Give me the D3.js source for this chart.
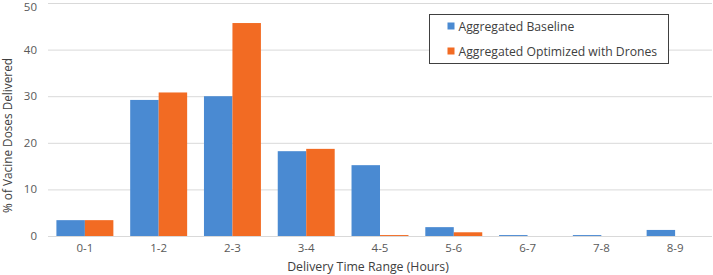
<!DOCTYPE html>
<html>
<head>
<meta charset="utf-8">
<script src="https://cdn.jsdelivr.net/npm/d3@7"></script>
<style>
  html, body { margin: 0; padding: 0; background: #fff; }
  svg { display: block; font-family: "Open Sans", "Noto Sans", sans-serif; }
</style>
</head>
<body>
<div id="chart"></div>
<script>
const categories = ["0-1", "1-2", "2-3", "3-4", "4-5", "5-6", "6-7", "7-8", "8-9"];
const baseline = [3.4, 29.2, 30.0, 18.2, 15.2, 1.9, 0.2, 0.2, 1.3];
const drones = [3.4, 30.8, 45.7, 18.7, 0.2, 0.8, 0, 0, 0];
const seriesNames = ["Aggregated Baseline", "Aggregated Optimized with Drones"];
const seriesColors = ["#4a8ad2", "#f26b23"];
const yTicks = [0, 10, 20, 30, 40, 50];

const width = 713, height = 275;
const margin = { top: 3, right: 1, bottom: 39, left: 48 };
const innerW = width - margin.left - margin.right;
const innerH = height - margin.top - margin.bottom;

const svg = d3.select("#chart")
  .append("svg")
  .attr("width", width)
  .attr("height", height);

const g = svg.append("g")
  .attr("transform", `translate(${margin.left},${margin.top})`);

const x = d3.scaleBand()
  .domain(categories)
  .range([0, innerW])
  .paddingInner(0.228)
  .paddingOuter(0.114);

const x1 = d3.scaleBand()
  .domain([0, 1])
  .range([0, x.bandwidth()]);

const y = d3.scaleLinear()
  .domain([0, 50])
  .range([innerH, 0]);

// gridlines
g.append("g")
  .selectAll("line")
  .data(yTicks)
  .join("line")
  .attr("x1", 0)
  .attr("x2", innerW)
  .attr("y1", d => y(d) + 0.5)
  .attr("y2", d => y(d) + 0.5)
  .attr("stroke", "#d9d9d9")
  .attr("stroke-width", 1);

// y tick labels (top one nudged down so it stays inside the page)
g.append("g")
  .selectAll("text")
  .data(yTicks)
  .join("text")
  .attr("x", -11)
  .attr("y", d => Math.max(y(d), 4))
  .attr("dy", "0.35em")
  .attr("text-anchor", "end")
  .attr("font-size", 11.5)
  .attr("fill", "#595959")
  .text(d => d);

// bars
const data = categories.map((c, i) => ({ category: c, values: [baseline[i], drones[i]] }));

const groups = g.append("g")
  .selectAll("g")
  .data(data)
  .join("g")
  .attr("transform", d => `translate(${x(d.category)},0)`);

groups.selectAll("rect")
  .data(d => d.values.map((v, k) => ({ k, v })))
  .join("rect")
  .attr("x", d => x1(d.k))
  .attr("y", d => y(d.v))
  .attr("width", x1.bandwidth())
  .attr("height", d => innerH - y(d.v))
  .attr("fill", d => seriesColors[d.k]);

// x axis labels
g.append("g")
  .selectAll("text")
  .data(categories)
  .join("text")
  .attr("x", d => x(d) + x.bandwidth() / 2)
  .attr("y", innerH + 16)
  .attr("text-anchor", "middle")
  .attr("font-size", 11.5)
  .attr("fill", "#595959")
  .text(d => d);

// axis titles
svg.append("text")
  .attr("x", margin.left + innerW / 2 - 12)
  .attr("y", 271)
  .attr("text-anchor", "middle")
  .attr("font-size", 12.3)
  .attr("fill", "#404040")
  .text("Delivery Time Range (Hours)");

svg.append("text")
  .attr("transform", `translate(12,${margin.top + innerH / 2 + 16}) rotate(-90)`)
  .attr("text-anchor", "middle")
  .attr("font-size", 11.8)
  .attr("fill", "#404040")
  .text("% of Vacine Doses Delivered");

// legend
const legend = svg.append("g")
  .attr("transform", "translate(429.5,14.5)");

legend.append("rect")
  .attr("width", 239)
  .attr("height", 49)
  .attr("fill", "#fff")
  .attr("stroke", "#404040")
  .attr("stroke-width", 1);

const items = legend.selectAll("g")
  .data(seriesNames)
  .join("g")
  .attr("transform", (d, i) => `translate(18,${12 + i * 25})`);

items.append("rect")
  .attr("width", 7)
  .attr("height", 7)
  .attr("y", -4)
  .attr("fill", (d, i) => seriesColors[i]);

items.append("text")
  .attr("x", 11)
  .attr("y", 0)
  .attr("dy", "0.35em")
  .attr("font-size", 12.2)
  .attr("fill", "#404040")
  .text(d => d);
</script>
</body>
</html>
